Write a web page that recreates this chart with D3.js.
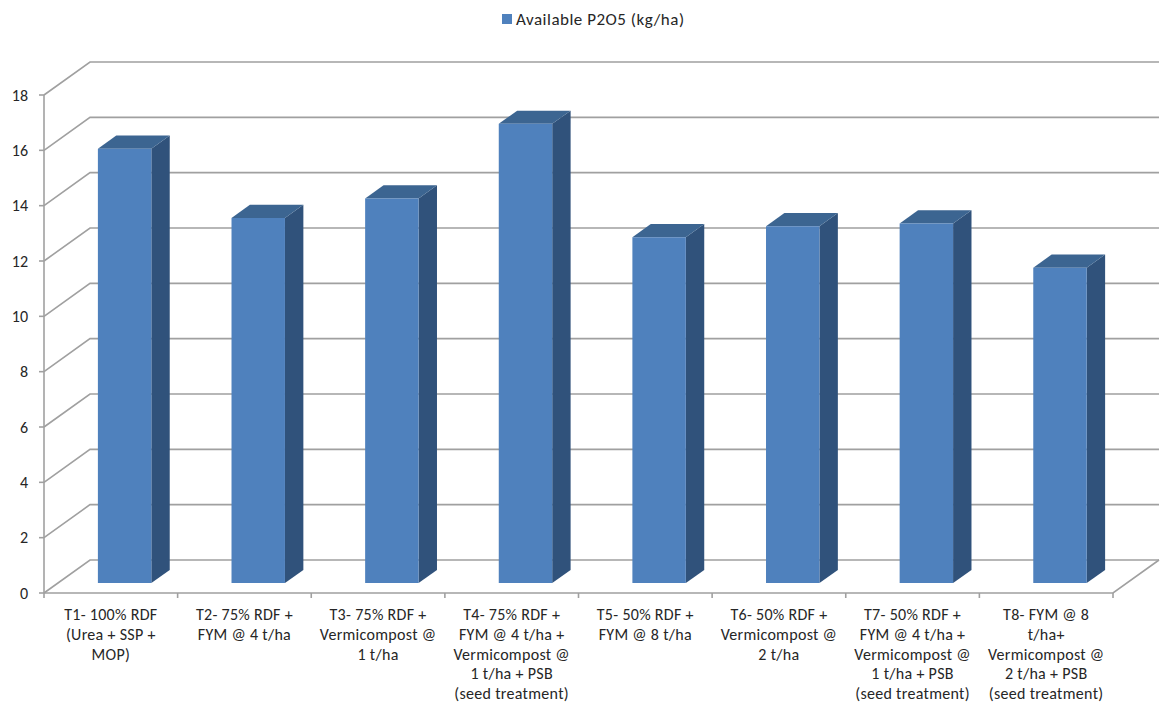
<!DOCTYPE html>
<html>
<head>
<meta charset="utf-8">
<script src="https://cdn.jsdelivr.net/npm/d3@7"></script>
<style>
  html, body { margin: 0; padding: 0; background: #fff; }
  svg { display: block; }
</style>
</head>
<body>
<svg id="chart" width="1161" height="703"></svg>
<script>
// Treatment labels (line breaks marked with \n)
const categories = [
  "T1- 100% RDF\n(Urea + SSP +\nMOP)",
  "T2- 75% RDF +\nFYM @ 4 t/ha",
  "T3- 75% RDF +\nVermicompost @\n1 t/ha",
  "T4- 75% RDF +\nFYM @ 4 t/ha +\nVermicompost @\n1 t/ha + PSB\n(seed treatment)",
  "T5- 50% RDF +\nFYM @ 8 t/ha",
  "T6- 50% RDF +\nVermicompost @\n2 t/ha",
  "T7- 50% RDF +\nFYM @ 4 t/ha +\nVermicompost @\n1 t/ha + PSB\n(seed treatment)",
  "T8- FYM @ 8\nt/ha+\nVermicompost @\n2 t/ha + PSB\n(seed treatment)"
];
const seriesName = "Available P2O5 (kg/ha)";
const values = [15.7, 13.2, 13.9, 16.6, 12.5, 12.9, 13.0, 11.4];
const yTicks = [0, 2, 4, 6, 8, 10, 12, 14, 16, 18];

const FONT = "Carlito, Lato, 'Liberation Sans', sans-serif";
const TEXT = "#262626";
const GRID = "#a0a0a0";
const FRONT = "#4f81bd", TOP = "#3c6591", SIDE = "#30527b";

const svg = d3.select("#chart");

// Front plane of the plot box; depth runs back and to the right.
const DX = 46, DY = -33;
const x = d3.scaleBand().domain(d3.range(categories.length)).range([44, 1113]);
const y = d3.scaleLinear().domain([0, 18]).range([593, 95]);
const P = (px, v, d) => [px + d * DX, y(v) + d * DY];
const [xL, xR] = x.range();

const line = d3.line();
const grid = svg.append("g").attr("fill", "none").attr("stroke", GRID).attr("stroke-width", 1.6);

// side wall + back wall gridlines
yTicks.forEach(t => {
  grid.append("path").attr("d", line([P(xL, t, 0), P(xL, t, 1), P(xR, t, 1)]));
});
// floor outline
grid.append("path").attr("d", line([P(xR, 0, 1), P(xR, 0, 0), P(xL, 0, 0)]));
// vertical value axis
grid.append("path").attr("d", line([P(xL, 0, 0), P(xL, 18, 0)]));
// value axis tick marks
yTicks.forEach(t => {
  grid.append("path").attr("d", line([[xL - 5, y(t)], [xL, y(t)]]));
});
// category axis tick marks
d3.range(categories.length + 1).forEach(i => {
  const px = xL + i * x.step();
  grid.append("path").attr("d", line([[px, y(0)], [px, y(0) + 5]]));
});

// value axis labels
svg.append("g").selectAll("text").data(yTicks).join("text")
  .attr("x", 28).attr("y", d => y(d)).attr("dy", "0.35em")
  .attr("text-anchor", "end")
  .attr("font-family", FONT).attr("font-size", 16).attr("fill", TEXT)
  .text(d => d);

// 3D bars
const dFront = 0.3, dBack = 0.7, wFrac = 0.4;
const bars = svg.append("g");
values.forEach((v, i) => {
  const a = x(i) + x.step() * (1 - wFrac) / 2;
  const b = a + x.step() * wFrac;
  const g = bars.append("g");
  g.append("path").attr("fill", SIDE)
    .attr("d", line([P(b, v, dFront), P(b, v, dBack), P(b, 0, dBack), P(b, 0, dFront)]) + "Z");
  g.append("path").attr("fill", TOP)
    .attr("d", line([P(a, v, dFront), P(b, v, dFront), P(b, v, dBack), P(a, v, dBack)]) + "Z");
  g.append("path").attr("fill", FRONT)
    .attr("d", line([P(a, v, dFront), P(b, v, dFront), P(b, 0, dFront), P(a, 0, dFront)]) + "Z");
});

// category labels
const cat = svg.append("g").attr("font-family", FONT).attr("font-size", 16)
  .attr("letter-spacing", 0.3).attr("fill", TEXT).attr("text-anchor", "middle");
categories.forEach((c, i) => {
  const cx = x(i) + x.step() / 2;
  const t = cat.append("text").attr("x", cx).attr("y", 620);
  c.split("\n").forEach((s, k) => {
    t.append("tspan").attr("x", cx).attr("y", 620 + k * 19.8).text(s);
  });
});

// legend
const lg = svg.append("g");
lg.append("rect").attr("x", 502).attr("y", 14).attr("width", 10).attr("height", 10).attr("fill", FRONT);
lg.append("text").attr("x", 516).attr("y", 19).attr("dy", "0.35em")
  .attr("font-family", FONT).attr("font-size", 17).attr("letter-spacing", 0.5).attr("fill", TEXT)
  .text(seriesName);
</script>
</body>
</html>
